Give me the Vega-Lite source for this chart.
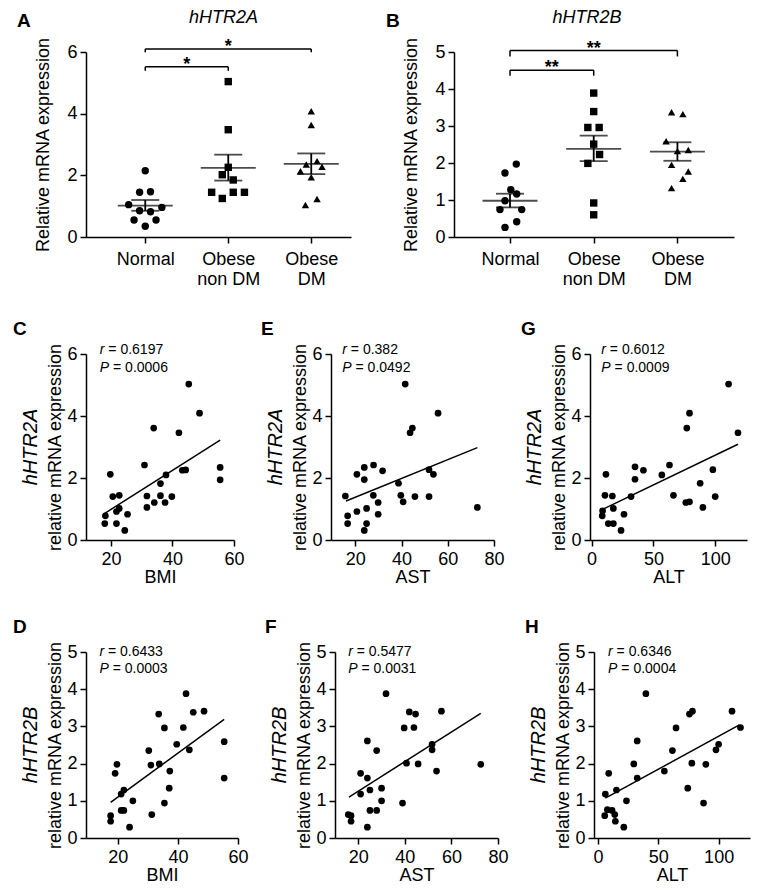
{
"$schema": "https://vega.github.io/schema/vega-lite/v6.json",
"padding": {"top": 8, "left": 12, "right": 5, "bottom": 5},
"background": "white",
"config": {
  "font": "Liberation Sans",
  "view": {"stroke": null},
  "axis": {"domainColor": "#000", "domainWidth": 1.5, "tickColor": "#000", "tickWidth": 1.5, "tickSize": 6, "labelColor": "#000", "labelFontSize": 18, "titleColor": "#000", "titleFontSize": 18, "titleFontWeight": "normal", "grid": false, "labelPadding": 3, "labelFlush": false, "labelOverlap": false, "tickCount": 10, "format": "d"},
  "title": {"color": "#000", "fontSize": 19, "fontWeight": "bold"},
  "text": {"color": "#000"}
},
"datasets": {
  "ptsA": [
    {"grp": "Normal", "pos": 1.0, "val": 2.15}, {"grp": "Normal", "pos": 0.932, "val": 1.45}, {"grp": "Normal", "pos": 1.063, "val": 1.47}, {"grp": "Normal", "pos": 0.80, "val": 1.05}, {"grp": "Normal", "pos": 1.20, "val": 0.96}, {"grp": "Normal", "pos": 0.932, "val": 0.85}, {"grp": "Normal", "pos": 1.063, "val": 0.82}, {"grp": "Normal", "pos": 0.865, "val": 0.55}, {"grp": "Normal", "pos": 1.13, "val": 0.55}, {"grp": "Normal", "pos": 1.0, "val": 0.35},
    {"grp": "Obese non DM", "pos": 2.0, "val": 5.04}, {"grp": "Obese non DM", "pos": 2.0, "val": 3.48}, {"grp": "Obese non DM", "pos": 2.0, "val": 2.26}, {"grp": "Obese non DM", "pos": 1.928, "val": 2.02}, {"grp": "Obese non DM", "pos": 2.06, "val": 1.85}, {"grp": "Obese non DM", "pos": 1.80, "val": 1.45}, {"grp": "Obese non DM", "pos": 2.06, "val": 1.45}, {"grp": "Obese non DM", "pos": 2.195, "val": 1.45}, {"grp": "Obese non DM", "pos": 1.928, "val": 1.25},
    {"grp": "Obese DM", "pos": 3.0, "val": 4.08}, {"grp": "Obese DM", "pos": 3.0, "val": 3.63}, {"grp": "Obese DM", "pos": 2.94, "val": 2.35}, {"grp": "Obese DM", "pos": 3.07, "val": 2.46}, {"grp": "Obese DM", "pos": 3.13, "val": 2.28}, {"grp": "Obese DM", "pos": 2.87, "val": 2.13}, {"grp": "Obese DM", "pos": 3.0, "val": 1.94}, {"grp": "Obese DM", "pos": 2.93, "val": 1.04}, {"grp": "Obese DM", "pos": 3.07, "val": 1.23}
  ],
  "sumA": [{"pos": 1, "mean": 1.02, "lo": 0.85, "hi": 1.2}, {"pos": 2, "mean": 2.24, "lo": 1.83, "hi": 2.67}, {"pos": 3, "mean": 2.37, "lo": 2.04, "hi": 2.71}],
  "brA": [{"from": 1, "to": 2, "mid": 1.5, "y": 5.52, "ylo": 5.39, "stars": "*"}, {"from": 1, "to": 3, "mid": 2, "y": 6.1, "ylo": 5.99, "stars": "*"}],
  "ptsB": [
    {"grp": "Normal", "pos": 1.075, "val": 1.97}, {"grp": "Normal", "pos": 0.94, "val": 1.73}, {"grp": "Normal", "pos": 1.01, "val": 1.28}, {"grp": "Normal", "pos": 1.08, "val": 1.16}, {"grp": "Normal", "pos": 0.94, "val": 0.98}, {"grp": "Normal", "pos": 0.88, "val": 0.74}, {"grp": "Normal", "pos": 1.14, "val": 0.74}, {"grp": "Normal", "pos": 1.08, "val": 0.41}, {"grp": "Normal", "pos": 0.94, "val": 0.26},
    {"grp": "Obese non DM", "pos": 2.0, "val": 3.89}, {"grp": "Obese non DM", "pos": 2.0, "val": 3.39}, {"grp": "Obese non DM", "pos": 1.93, "val": 2.96}, {"grp": "Obese non DM", "pos": 2.065, "val": 2.96}, {"grp": "Obese non DM", "pos": 2.0, "val": 2.51}, {"grp": "Obese non DM", "pos": 2.07, "val": 2.23}, {"grp": "Obese non DM", "pos": 1.93, "val": 1.99}, {"grp": "Obese non DM", "pos": 2.0, "val": 0.92}, {"grp": "Obese non DM", "pos": 2.0, "val": 0.60},
    {"grp": "Obese DM", "pos": 2.93, "val": 3.37}, {"grp": "Obese DM", "pos": 3.065, "val": 3.32}, {"grp": "Obese DM", "pos": 2.865, "val": 2.59}, {"grp": "Obese DM", "pos": 3.0, "val": 2.32}, {"grp": "Obese DM", "pos": 3.13, "val": 2.35}, {"grp": "Obese DM", "pos": 2.93, "val": 1.95}, {"grp": "Obese DM", "pos": 3.13, "val": 1.77}, {"grp": "Obese DM", "pos": 3.065, "val": 1.57}, {"grp": "Obese DM", "pos": 2.93, "val": 1.32}
  ],
  "sumB": [{"pos": 1, "mean": 0.98, "lo": 0.80, "hi": 1.17}, {"pos": 2, "mean": 2.38, "lo": 2.05, "hi": 2.74}, {"pos": 3, "mean": 2.31, "lo": 2.06, "hi": 2.56}],
  "brB": [{"from": 1, "to": 2, "mid": 1.5, "y": 4.51, "ylo": 4.36, "stars": "**"}, {"from": 1, "to": 3, "mid": 2, "y": 5.04, "ylo": 4.88, "stars": "**"}],
  "C": [{"x": 45.3, "y": 5.03}, {"x": 48.8, "y": 4.09}, {"x": 33.9, "y": 3.61}, {"x": 42.1, "y": 3.46}, {"x": 55.5, "y": 2.34}, {"x": 55.5, "y": 1.94}, {"x": 30.9, "y": 2.42}, {"x": 19.8, "y": 2.12}, {"x": 37.9, "y": 2.10}, {"x": 43.2, "y": 2.25}, {"x": 44.3, "y": 2.26}, {"x": 36.1, "y": 1.82}, {"x": 20.6, "y": 1.40}, {"x": 22.7, "y": 1.44}, {"x": 31.7, "y": 1.42}, {"x": 36.1, "y": 1.43}, {"x": 39.8, "y": 1.40}, {"x": 34.1, "y": 1.21}, {"x": 37.6, "y": 1.21}, {"x": 31.7, "y": 1.05}, {"x": 22.7, "y": 1.02}, {"x": 21.8, "y": 0.92}, {"x": 25.4, "y": 0.83}, {"x": 18.2, "y": 0.78}, {"x": 18.0, "y": 0.53}, {"x": 21.8, "y": 0.53}, {"x": 24.5, "y": 0.31}],
  "regC": [{"x": 18.0, "y": 0.86}, {"x": 55.5, "y": 3.22}],
  "annC": [{"sym": "r", "rest": "= 0.6197", "x": 16.4, "y": 6.14}, {"sym": "P", "rest": "= 0.0006", "x": 16.4, "y": 5.56}],
  "E": [{"x": 41.6, "y": 5.03}, {"x": 55.8, "y": 4.09}, {"x": 44.7, "y": 3.61}, {"x": 43.7, "y": 3.46}, {"x": 51.9, "y": 2.27}, {"x": 53.8, "y": 2.12}, {"x": 27.9, "y": 2.42}, {"x": 23.9, "y": 2.34}, {"x": 31.8, "y": 2.23}, {"x": 20.7, "y": 2.12}, {"x": 23.9, "y": 1.95}, {"x": 38.7, "y": 1.83}, {"x": 15.7, "y": 1.42}, {"x": 27.8, "y": 1.44}, {"x": 39.7, "y": 1.44}, {"x": 45.8, "y": 1.40}, {"x": 51.9, "y": 1.40}, {"x": 29.9, "y": 1.21}, {"x": 40.7, "y": 1.23}, {"x": 72.8, "y": 1.05}, {"x": 24.9, "y": 1.02}, {"x": 20.7, "y": 0.92}, {"x": 29.9, "y": 0.83}, {"x": 16.7, "y": 0.78}, {"x": 16.7, "y": 0.53}, {"x": 24.9, "y": 0.53}, {"x": 23.9, "y": 0.31}],
  "regE": [{"x": 16.0, "y": 1.26}, {"x": 72.8, "y": 2.98}],
  "annE": [{"sym": "r", "rest": "= 0.382", "x": 14.4, "y": 6.14}, {"sym": "P", "rest": "= 0.0492", "x": 14.4, "y": 5.56}],
  "G": [{"x": 110.8, "y": 5.03}, {"x": 79.2, "y": 4.09}, {"x": 77.0, "y": 3.61}, {"x": 118.4, "y": 3.46}, {"x": 35.1, "y": 2.36}, {"x": 41.9, "y": 2.25}, {"x": 63.0, "y": 2.42}, {"x": 56.8, "y": 2.10}, {"x": 98.1, "y": 2.27}, {"x": 11.6, "y": 2.12}, {"x": 35.1, "y": 1.96}, {"x": 87.8, "y": 1.83}, {"x": 10.8, "y": 1.44}, {"x": 16.8, "y": 1.42}, {"x": 31.9, "y": 1.40}, {"x": 66.2, "y": 1.44}, {"x": 100.0, "y": 1.40}, {"x": 76.2, "y": 1.21}, {"x": 79.2, "y": 1.23}, {"x": 90.0, "y": 1.05}, {"x": 17.6, "y": 1.02}, {"x": 8.9, "y": 0.94}, {"x": 8.6, "y": 0.78}, {"x": 26.2, "y": 0.83}, {"x": 13.5, "y": 0.53}, {"x": 17.6, "y": 0.53}, {"x": 23.8, "y": 0.31}],
  "regG": [{"x": 8.9, "y": 0.99}, {"x": 118.4, "y": 3.09}],
  "annG": [{"sym": "r", "rest": "= 0.6012", "x": 7.9, "y": 6.14}, {"sym": "P", "rest": "= 0.0009", "x": 7.9, "y": 5.56}],
  "D": [{"x": 42.7, "y": 3.88}, {"x": 33.6, "y": 3.33}, {"x": 45.1, "y": 3.38}, {"x": 48.7, "y": 3.41}, {"x": 35.5, "y": 2.96}, {"x": 41.8, "y": 2.97}, {"x": 55.4, "y": 2.59}, {"x": 39.6, "y": 2.52}, {"x": 43.8, "y": 2.37}, {"x": 30.3, "y": 2.35}, {"x": 19.7, "y": 1.98}, {"x": 31.0, "y": 1.96}, {"x": 33.8, "y": 1.99}, {"x": 19.1, "y": 1.74}, {"x": 37.3, "y": 1.80}, {"x": 55.4, "y": 1.61}, {"x": 22.0, "y": 1.29}, {"x": 21.1, "y": 1.18}, {"x": 37.1, "y": 1.34}, {"x": 25.0, "y": 1.00}, {"x": 35.5, "y": 0.94}, {"x": 21.1, "y": 0.74}, {"x": 22.0, "y": 0.74}, {"x": 31.3, "y": 0.63}, {"x": 17.6, "y": 0.60}, {"x": 17.6, "y": 0.45}, {"x": 23.9, "y": 0.29}],
  "regD": [{"x": 17.6, "y": 0.96}, {"x": 55.4, "y": 3.19}],
  "annD": [{"sym": "r", "rest": "= 0.6433", "x": 13.9, "y": 5.01}, {"sym": "P", "rest": "= 0.0003", "x": 13.9, "y": 4.55}],
  "F": [{"x": 31.9, "y": 3.88}, {"x": 41.9, "y": 3.39}, {"x": 44.6, "y": 3.33}, {"x": 55.7, "y": 3.41}, {"x": 39.7, "y": 2.96}, {"x": 43.9, "y": 2.97}, {"x": 23.9, "y": 2.61}, {"x": 51.7, "y": 2.52}, {"x": 51.7, "y": 2.37}, {"x": 27.9, "y": 2.35}, {"x": 40.7, "y": 2.01}, {"x": 45.7, "y": 1.99}, {"x": 72.6, "y": 1.98}, {"x": 21.0, "y": 1.74}, {"x": 53.6, "y": 1.80}, {"x": 23.9, "y": 1.61}, {"x": 25.0, "y": 1.29}, {"x": 21.0, "y": 1.18}, {"x": 30.0, "y": 1.34}, {"x": 30.0, "y": 1.00}, {"x": 39.0, "y": 0.94}, {"x": 25.0, "y": 0.74}, {"x": 27.9, "y": 0.74}, {"x": 15.7, "y": 0.63}, {"x": 16.9, "y": 0.60}, {"x": 16.9, "y": 0.45}, {"x": 23.9, "y": 0.29}],
  "regF": [{"x": 16.0, "y": 1.10}, {"x": 72.6, "y": 3.35}],
  "annF": [{"sym": "r", "rest": "= 0.5477", "x": 15.7, "y": 5.01}, {"sym": "P", "rest": "= 0.0031", "x": 15.7, "y": 4.55}],
  "H": [{"x": 39.7, "y": 3.88}, {"x": 75.8, "y": 3.33}, {"x": 78.3, "y": 3.41}, {"x": 111.1, "y": 3.41}, {"x": 118.1, "y": 2.97}, {"x": 64.7, "y": 2.96}, {"x": 32.5, "y": 2.61}, {"x": 100, "y": 2.52}, {"x": 97.8, "y": 2.37}, {"x": 61.7, "y": 2.35}, {"x": 29.7, "y": 1.99}, {"x": 77.8, "y": 2.01}, {"x": 89.4, "y": 1.98}, {"x": 8.9, "y": 1.74}, {"x": 55, "y": 1.80}, {"x": 32.5, "y": 1.61}, {"x": 15.3, "y": 1.29}, {"x": 6.1, "y": 1.18}, {"x": 74.4, "y": 1.34}, {"x": 23.6, "y": 1.00}, {"x": 87.5, "y": 0.94}, {"x": 7.8, "y": 0.76}, {"x": 11.7, "y": 0.74}, {"x": 13.9, "y": 0.63}, {"x": 5.6, "y": 0.60}, {"x": 14.4, "y": 0.45}, {"x": 21.4, "y": 0.29}],
  "regH": [{"x": 6.1, "y": 1.07}, {"x": 117.2, "y": 3.04}],
  "annH": [{"sym": "r", "rest": "= 0.6346", "x": 8.4, "y": 5.01}, {"sym": "P", "rest": "= 0.0004", "x": 8.4, "y": 4.55}]
},
"spacing": 31,
"vconcat": [
{
  "spacing": 34,
  "hconcat": [
  {
    "title": {"text": "A", "anchor": "start", "frame": "bounds", "dx": -18, "offset": -22},
    "vconcat": [{
    "width": 265, "height": 185,
    "title": {"text": "hHTR2A", "fontStyle": "italic", "fontWeight": "normal", "fontSize": 18, "anchor": "middle", "frame": "group", "dx": 5, "offset": 10},
    "layer": [
      {"data": {"name": "ptsA"}, "mark": {"type": "point", "filled": true, "size": 55, "opacity": 1, "color": "#000"},
       "encoding": {
        "x": {"field": "pos", "type": "quantitative", "scale": {"domain": [0.286, 3.479], "nice": false, "zero": false}, "axis": {"values": [1, 2, 3], "title": null, "labelExpr": "datum.value == 1 ? 'Normal' : datum.value == 2 ? ['Obese', 'non DM'] : ['Obese', 'DM']", "labelPadding": 7, "labelLineHeight": 20}},
        "y": {"field": "val", "type": "quantitative", "scale": {"domain": [0, 6], "nice": false}, "axis": {"values": [0, 2, 4, 6], "title": "Relative mRNA expression", "titlePadding": 14}},
        "shape": {"field": "grp", "type": "nominal", "scale": {"domain": ["Normal", "Obese non DM", "Obese DM"], "range": ["circle", "square", "triangle-up"]}, "legend": null}
       }},
      {"data": {"name": "sumA"}, "mark": {"type": "tick", "orient": "horizontal", "size": 55, "thickness": 1.8, "color": "#000"},
       "encoding": {"x": {"field": "pos", "type": "quantitative", "scale": {"domain": [0.286, 3.479], "nice": false, "zero": false}, "axis": {"title": null}}, "y": {"field": "mean", "type": "quantitative", "scale": {"domain": [0, 6], "nice": false}, "axis": {"title": "Relative mRNA expression"}}}},
      {"data": {"name": "sumA"}, "mark": {"type": "tick", "orient": "horizontal", "size": 28, "thickness": 1.8, "color": "#000"},
       "encoding": {"x": {"field": "pos", "type": "quantitative", "scale": {"domain": [0.286, 3.479], "nice": false, "zero": false}, "axis": {"title": null}}, "y": {"field": "hi", "type": "quantitative", "scale": {"domain": [0, 6], "nice": false}, "axis": {"title": "Relative mRNA expression"}}}},
      {"data": {"name": "sumA"}, "mark": {"type": "tick", "orient": "horizontal", "size": 28, "thickness": 1.8, "color": "#000"},
       "encoding": {"x": {"field": "pos", "type": "quantitative", "scale": {"domain": [0.286, 3.479], "nice": false, "zero": false}, "axis": {"title": null}}, "y": {"field": "lo", "type": "quantitative", "scale": {"domain": [0, 6], "nice": false}, "axis": {"title": "Relative mRNA expression"}}}},
      {"data": {"name": "sumA"}, "mark": {"type": "rule", "strokeWidth": 1.8, "color": "#000"},
       "encoding": {"x": {"field": "pos", "type": "quantitative", "scale": {"domain": [0.286, 3.479], "nice": false, "zero": false}, "axis": {"title": null}}, "y": {"field": "lo", "type": "quantitative", "scale": {"domain": [0, 6], "nice": false}, "axis": {"title": "Relative mRNA expression"}}, "y2": {"field": "hi"}}},
      {"data": {"name": "brA"}, "mark": {"type": "rule", "strokeWidth": 1.5, "color": "#000"},
       "encoding": {"x": {"field": "from", "type": "quantitative", "scale": {"domain": [0.286, 3.479], "nice": false, "zero": false}, "axis": {"title": null}}, "x2": {"field": "to"}, "y": {"field": "y", "type": "quantitative", "scale": {"domain": [0, 6], "nice": false}, "axis": {"title": "Relative mRNA expression"}}}},
      {"data": {"name": "brA"}, "mark": {"type": "rule", "strokeWidth": 1.5, "color": "#000"},
       "encoding": {"x": {"field": "from", "type": "quantitative", "scale": {"domain": [0.286, 3.479], "nice": false, "zero": false}, "axis": {"title": null}}, "y": {"field": "ylo", "type": "quantitative", "scale": {"domain": [0, 6], "nice": false}, "axis": {"title": "Relative mRNA expression"}}, "y2": {"field": "y"}}},
      {"data": {"name": "brA"}, "mark": {"type": "rule", "strokeWidth": 1.5, "color": "#000"},
       "encoding": {"x": {"field": "to", "type": "quantitative", "scale": {"domain": [0.286, 3.479], "nice": false, "zero": false}, "axis": {"title": null}}, "y": {"field": "ylo", "type": "quantitative", "scale": {"domain": [0, 6], "nice": false}, "axis": {"title": "Relative mRNA expression"}}, "y2": {"field": "y"}}},
      {"data": {"name": "brA"}, "mark": {"type": "text", "fontSize": 18, "fontWeight": "bold", "baseline": "alphabetic", "dy": 3},
       "encoding": {"x": {"field": "mid", "type": "quantitative", "scale": {"domain": [0.286, 3.479], "nice": false, "zero": false}, "axis": {"title": null}}, "y": {"field": "y", "type": "quantitative", "scale": {"domain": [0, 6], "nice": false}, "axis": {"title": "Relative mRNA expression"}}, "text": {"field": "stars"}}}
    ]
    }]
  },
  {
    "title": {"text": "B", "anchor": "start", "frame": "bounds", "dx": -17, "offset": -22},
    "vconcat": [{
    "width": 280, "height": 185,
    "title": {"text": "hHTR2B", "fontStyle": "italic", "fontWeight": "normal", "fontSize": 18, "anchor": "middle", "frame": "group", "dx": -7, "offset": 10},
    "layer": [
      {"data": {"name": "ptsB"}, "mark": {"type": "point", "filled": true, "size": 55, "opacity": 1, "color": "#000"},
       "encoding": {
        "x": {"field": "pos", "type": "quantitative", "scale": {"domain": [0.331, 3.676], "nice": false, "zero": false}, "axis": {"values": [1, 2, 3], "title": null, "labelExpr": "datum.value == 1 ? 'Normal' : datum.value == 2 ? ['Obese', 'non DM'] : ['Obese', 'DM']", "labelPadding": 7, "labelLineHeight": 20}},
        "y": {"field": "val", "type": "quantitative", "scale": {"domain": [0, 5], "nice": false}, "axis": {"values": [0, 1, 2, 3, 4, 5], "title": "Relative mRNA expression", "titlePadding": 14}},
        "shape": {"field": "grp", "type": "nominal", "scale": {"domain": ["Normal", "Obese non DM", "Obese DM"], "range": ["circle", "square", "triangle-up"]}, "legend": null}
       }},
      {"data": {"name": "sumB"}, "mark": {"type": "tick", "orient": "horizontal", "size": 55, "thickness": 1.8, "color": "#000"},
       "encoding": {"x": {"field": "pos", "type": "quantitative", "scale": {"domain": [0.331, 3.676], "nice": false, "zero": false}, "axis": {"title": null}}, "y": {"field": "mean", "type": "quantitative", "scale": {"domain": [0, 5], "nice": false}, "axis": {"title": "Relative mRNA expression"}}}},
      {"data": {"name": "sumB"}, "mark": {"type": "tick", "orient": "horizontal", "size": 28, "thickness": 1.8, "color": "#000"},
       "encoding": {"x": {"field": "pos", "type": "quantitative", "scale": {"domain": [0.331, 3.676], "nice": false, "zero": false}, "axis": {"title": null}}, "y": {"field": "hi", "type": "quantitative", "scale": {"domain": [0, 5], "nice": false}, "axis": {"title": "Relative mRNA expression"}}}},
      {"data": {"name": "sumB"}, "mark": {"type": "tick", "orient": "horizontal", "size": 28, "thickness": 1.8, "color": "#000"},
       "encoding": {"x": {"field": "pos", "type": "quantitative", "scale": {"domain": [0.331, 3.676], "nice": false, "zero": false}, "axis": {"title": null}}, "y": {"field": "lo", "type": "quantitative", "scale": {"domain": [0, 5], "nice": false}, "axis": {"title": "Relative mRNA expression"}}}},
      {"data": {"name": "sumB"}, "mark": {"type": "rule", "strokeWidth": 1.8, "color": "#000"},
       "encoding": {"x": {"field": "pos", "type": "quantitative", "scale": {"domain": [0.331, 3.676], "nice": false, "zero": false}, "axis": {"title": null}}, "y": {"field": "lo", "type": "quantitative", "scale": {"domain": [0, 5], "nice": false}, "axis": {"title": "Relative mRNA expression"}}, "y2": {"field": "hi"}}},
      {"data": {"name": "brB"}, "mark": {"type": "rule", "strokeWidth": 1.5, "color": "#000"},
       "encoding": {"x": {"field": "from", "type": "quantitative", "scale": {"domain": [0.331, 3.676], "nice": false, "zero": false}, "axis": {"title": null}}, "x2": {"field": "to"}, "y": {"field": "y", "type": "quantitative", "scale": {"domain": [0, 5], "nice": false}, "axis": {"title": "Relative mRNA expression"}}}},
      {"data": {"name": "brB"}, "mark": {"type": "rule", "strokeWidth": 1.5, "color": "#000"},
       "encoding": {"x": {"field": "from", "type": "quantitative", "scale": {"domain": [0.331, 3.676], "nice": false, "zero": false}, "axis": {"title": null}}, "y": {"field": "ylo", "type": "quantitative", "scale": {"domain": [0, 5], "nice": false}, "axis": {"title": "Relative mRNA expression"}}, "y2": {"field": "y"}}},
      {"data": {"name": "brB"}, "mark": {"type": "rule", "strokeWidth": 1.5, "color": "#000"},
       "encoding": {"x": {"field": "to", "type": "quantitative", "scale": {"domain": [0.331, 3.676], "nice": false, "zero": false}, "axis": {"title": null}}, "y": {"field": "ylo", "type": "quantitative", "scale": {"domain": [0, 5], "nice": false}, "axis": {"title": "Relative mRNA expression"}}, "y2": {"field": "y"}}},
      {"data": {"name": "brB"}, "mark": {"type": "text", "fontSize": 18, "fontWeight": "bold", "baseline": "alphabetic", "dy": 3},
       "encoding": {"x": {"field": "mid", "type": "quantitative", "scale": {"domain": [0.331, 3.676], "nice": false, "zero": false}, "axis": {"title": null}}, "y": {"field": "y", "type": "quantitative", "scale": {"domain": [0, 5], "nice": false}, "axis": {"title": "Relative mRNA expression"}}, "text": {"field": "stars"}}}
    ]
    }]
  }
  ]
},
{
  "spacing": 15,
  "hconcat": [
  {
    "title": {"text": "C", "anchor": "start", "frame": "bounds", "dx": -8, "offset": 4},
    "vconcat": [{
      "width": 148, "height": 186,
      "title": {"text": "hHTR2A", "orient": "left", "fontStyle": "italic", "fontWeight": "normal", "fontSize": 20, "offset": 6},
      "layer": [
        {"data": {"name": "C"}, "mark": {"type": "circle", "size": 45, "opacity": 1, "color": "#000"},
         "encoding": {"x": {"field": "x", "type": "quantitative", "scale": {"domain": [11.9, 60], "nice": false, "zero": false}, "axis": {"values": [20, 40, 60], "title": "BMI", "labelPadding": 4, "titlePadding": 0}},
                      "y": {"field": "y", "type": "quantitative", "scale": {"domain": [0, 6], "nice": false}, "axis": {"values": [0, 2, 4, 6], "title": "relative mRNA expression", "titlePadding": 2}}}},
        {"data": {"name": "regC"}, "mark": {"type": "line", "strokeWidth": 1.5, "color": "#000"},
         "encoding": {"x": {"field": "x", "type": "quantitative", "scale": {"domain": [11.9, 60], "nice": false, "zero": false}, "axis": {"title": "BMI"}}, "y": {"field": "y", "type": "quantitative", "scale": {"domain": [0, 6], "nice": false}, "axis": {"title": "relative mRNA expression"}}}},
        {"data": {"name": "annC"}, "mark": {"type": "text", "fontSize": 14, "fontStyle": "italic", "align": "left", "baseline": "middle"},
         "encoding": {"x": {"field": "x", "type": "quantitative", "scale": {"domain": [11.9, 60], "nice": false, "zero": false}, "axis": {"title": "BMI"}}, "y": {"field": "y", "type": "quantitative", "scale": {"domain": [0, 6], "nice": false}, "axis": {"title": "relative mRNA expression"}}, "text": {"field": "sym"}}},
        {"data": {"name": "annC"}, "transform": [{"filter": "datum.sym == 'r'"}], "mark": {"type": "text", "fontSize": 14, "align": "left", "baseline": "middle", "dx": 8.5},
         "encoding": {"x": {"field": "x", "type": "quantitative", "scale": {"domain": [11.9, 60], "nice": false, "zero": false}, "axis": {"title": "BMI"}}, "y": {"field": "y", "type": "quantitative", "scale": {"domain": [0, 6], "nice": false}, "axis": {"title": "relative mRNA expression"}}, "text": {"field": "rest"}}},
        {"data": {"name": "annC"}, "transform": [{"filter": "datum.sym == 'P'"}], "mark": {"type": "text", "fontSize": 14, "align": "left", "baseline": "middle", "dx": 13.2},
         "encoding": {"x": {"field": "x", "type": "quantitative", "scale": {"domain": [11.9, 60], "nice": false, "zero": false}, "axis": {"title": "BMI"}}, "y": {"field": "y", "type": "quantitative", "scale": {"domain": [0, 6], "nice": false}, "axis": {"title": "relative mRNA expression"}}, "text": {"field": "rest"}}}
      ]
    }]
  },
  {
    "title": {"text": "E", "anchor": "start", "frame": "bounds", "dx": -5, "offset": 4},
    "vconcat": [{
      "width": 163, "height": 186,
      "title": {"text": "hHTR2A", "orient": "left", "fontStyle": "italic", "fontWeight": "normal", "fontSize": 20, "offset": 6},
      "layer": [
        {"data": {"name": "E"}, "mark": {"type": "circle", "size": 45, "opacity": 1, "color": "#000"},
         "encoding": {"x": {"field": "x", "type": "quantitative", "scale": {"domain": [9.5, 80], "nice": false, "zero": false}, "axis": {"values": [20, 40, 60, 80], "title": "AST", "labelPadding": 4, "titlePadding": 0}},
                      "y": {"field": "y", "type": "quantitative", "scale": {"domain": [0, 6], "nice": false}, "axis": {"values": [0, 2, 4, 6], "title": "relative mRNA expression", "titlePadding": 2}}}},
        {"data": {"name": "regE"}, "mark": {"type": "line", "strokeWidth": 1.5, "color": "#000"},
         "encoding": {"x": {"field": "x", "type": "quantitative", "scale": {"domain": [9.5, 80], "nice": false, "zero": false}, "axis": {"title": "AST"}}, "y": {"field": "y", "type": "quantitative", "scale": {"domain": [0, 6], "nice": false}, "axis": {"title": "relative mRNA expression"}}}},
        {"data": {"name": "annE"}, "mark": {"type": "text", "fontSize": 14, "fontStyle": "italic", "align": "left", "baseline": "middle"},
         "encoding": {"x": {"field": "x", "type": "quantitative", "scale": {"domain": [9.5, 80], "nice": false, "zero": false}, "axis": {"title": "AST"}}, "y": {"field": "y", "type": "quantitative", "scale": {"domain": [0, 6], "nice": false}, "axis": {"title": "relative mRNA expression"}}, "text": {"field": "sym"}}},
        {"data": {"name": "annE"}, "transform": [{"filter": "datum.sym == 'r'"}], "mark": {"type": "text", "fontSize": 14, "align": "left", "baseline": "middle", "dx": 8.5},
         "encoding": {"x": {"field": "x", "type": "quantitative", "scale": {"domain": [9.5, 80], "nice": false, "zero": false}, "axis": {"title": "AST"}}, "y": {"field": "y", "type": "quantitative", "scale": {"domain": [0, 6], "nice": false}, "axis": {"title": "relative mRNA expression"}}, "text": {"field": "rest"}}},
        {"data": {"name": "annE"}, "transform": [{"filter": "datum.sym == 'P'"}], "mark": {"type": "text", "fontSize": 14, "align": "left", "baseline": "middle", "dx": 13.2},
         "encoding": {"x": {"field": "x", "type": "quantitative", "scale": {"domain": [9.5, 80], "nice": false, "zero": false}, "axis": {"title": "AST"}}, "y": {"field": "y", "type": "quantitative", "scale": {"domain": [0, 6], "nice": false}, "axis": {"title": "relative mRNA expression"}}, "text": {"field": "rest"}}}
      ]
    }]
  },
  {
    "title": {"text": "G", "anchor": "start", "frame": "bounds", "dx": -4, "offset": 4},
    "vconcat": [{
      "width": 157, "height": 186,
      "title": {"text": "hHTR2A", "orient": "left", "fontStyle": "italic", "fontWeight": "normal", "fontSize": 20, "offset": 6},
      "layer": [
        {"data": {"name": "G"}, "mark": {"type": "circle", "size": 45, "opacity": 1, "color": "#000"},
         "encoding": {"x": {"field": "x", "type": "quantitative", "scale": {"domain": [-1.3, 125.7], "nice": false, "zero": false}, "axis": {"values": [0, 50, 100], "title": "ALT", "labelPadding": 4, "titlePadding": 0}},
                      "y": {"field": "y", "type": "quantitative", "scale": {"domain": [0, 6], "nice": false}, "axis": {"values": [0, 2, 4, 6], "title": "relative mRNA expression", "titlePadding": 2}}}},
        {"data": {"name": "regG"}, "mark": {"type": "line", "strokeWidth": 1.5, "color": "#000"},
         "encoding": {"x": {"field": "x", "type": "quantitative", "scale": {"domain": [-1.3, 125.7], "nice": false, "zero": false}, "axis": {"title": "ALT"}}, "y": {"field": "y", "type": "quantitative", "scale": {"domain": [0, 6], "nice": false}, "axis": {"title": "relative mRNA expression"}}}},
        {"data": {"name": "annG"}, "mark": {"type": "text", "fontSize": 14, "fontStyle": "italic", "align": "left", "baseline": "middle"},
         "encoding": {"x": {"field": "x", "type": "quantitative", "scale": {"domain": [-1.3, 125.7], "nice": false, "zero": false}, "axis": {"title": "ALT"}}, "y": {"field": "y", "type": "quantitative", "scale": {"domain": [0, 6], "nice": false}, "axis": {"title": "relative mRNA expression"}}, "text": {"field": "sym"}}},
        {"data": {"name": "annG"}, "transform": [{"filter": "datum.sym == 'r'"}], "mark": {"type": "text", "fontSize": 14, "align": "left", "baseline": "middle", "dx": 8.5},
         "encoding": {"x": {"field": "x", "type": "quantitative", "scale": {"domain": [-1.3, 125.7], "nice": false, "zero": false}, "axis": {"title": "ALT"}}, "y": {"field": "y", "type": "quantitative", "scale": {"domain": [0, 6], "nice": false}, "axis": {"title": "relative mRNA expression"}}, "text": {"field": "rest"}}},
        {"data": {"name": "annG"}, "transform": [{"filter": "datum.sym == 'P'"}], "mark": {"type": "text", "fontSize": 14, "align": "left", "baseline": "middle", "dx": 13.2},
         "encoding": {"x": {"field": "x", "type": "quantitative", "scale": {"domain": [-1.3, 125.7], "nice": false, "zero": false}, "axis": {"title": "ALT"}}, "y": {"field": "y", "type": "quantitative", "scale": {"domain": [0, 6], "nice": false}, "axis": {"title": "relative mRNA expression"}}, "text": {"field": "rest"}}}
      ]
    }]
  }
  ]
},
{
  "spacing": 15,
  "hconcat": [
  {
    "title": {"text": "D", "anchor": "start", "frame": "bounds", "dx": -8, "offset": 4},
    "vconcat": [{
      "width": 152, "height": 186,
      "title": {"text": "hHTR2B", "orient": "left", "fontStyle": "italic", "fontWeight": "normal", "fontSize": 20, "offset": 6},
      "layer": [
        {"data": {"name": "D"}, "mark": {"type": "circle", "size": 45, "opacity": 1, "color": "#000"},
         "encoding": {"x": {"field": "x", "type": "quantitative", "scale": {"domain": [9.4, 60], "nice": false, "zero": false}, "axis": {"values": [20, 40, 60], "title": "BMI", "labelPadding": 4, "titlePadding": 0}},
                      "y": {"field": "y", "type": "quantitative", "scale": {"domain": [0, 5], "nice": false}, "axis": {"values": [0, 1, 2, 3, 4, 5], "title": "relative mRNA expression", "titlePadding": 2}}}},
        {"data": {"name": "regD"}, "mark": {"type": "line", "strokeWidth": 1.5, "color": "#000"},
         "encoding": {"x": {"field": "x", "type": "quantitative", "scale": {"domain": [9.4, 60], "nice": false, "zero": false}, "axis": {"title": "BMI"}}, "y": {"field": "y", "type": "quantitative", "scale": {"domain": [0, 5], "nice": false}, "axis": {"title": "relative mRNA expression"}}}},
        {"data": {"name": "annD"}, "mark": {"type": "text", "fontSize": 14, "fontStyle": "italic", "align": "left", "baseline": "middle"},
         "encoding": {"x": {"field": "x", "type": "quantitative", "scale": {"domain": [9.4, 60], "nice": false, "zero": false}, "axis": {"title": "BMI"}}, "y": {"field": "y", "type": "quantitative", "scale": {"domain": [0, 5], "nice": false}, "axis": {"title": "relative mRNA expression"}}, "text": {"field": "sym"}}},
        {"data": {"name": "annD"}, "transform": [{"filter": "datum.sym == 'r'"}], "mark": {"type": "text", "fontSize": 14, "align": "left", "baseline": "middle", "dx": 8.5},
         "encoding": {"x": {"field": "x", "type": "quantitative", "scale": {"domain": [9.4, 60], "nice": false, "zero": false}, "axis": {"title": "BMI"}}, "y": {"field": "y", "type": "quantitative", "scale": {"domain": [0, 5], "nice": false}, "axis": {"title": "relative mRNA expression"}}, "text": {"field": "rest"}}},
        {"data": {"name": "annD"}, "transform": [{"filter": "datum.sym == 'P'"}], "mark": {"type": "text", "fontSize": 14, "align": "left", "baseline": "middle", "dx": 13.2},
         "encoding": {"x": {"field": "x", "type": "quantitative", "scale": {"domain": [9.4, 60], "nice": false, "zero": false}, "axis": {"title": "BMI"}}, "y": {"field": "y", "type": "quantitative", "scale": {"domain": [0, 5], "nice": false}, "axis": {"title": "relative mRNA expression"}}, "text": {"field": "rest"}}}
      ]
    }]
  },
  {
    "title": {"text": "F", "anchor": "start", "frame": "bounds", "dx": -5, "offset": 4},
    "vconcat": [{
      "width": 163, "height": 186,
      "title": {"text": "hHTR2B", "orient": "left", "fontStyle": "italic", "fontWeight": "normal", "fontSize": 20, "offset": 6},
      "layer": [
        {"data": {"name": "F"}, "mark": {"type": "circle", "size": 45, "opacity": 1, "color": "#000"},
         "encoding": {"x": {"field": "x", "type": "quantitative", "scale": {"domain": [10, 80], "nice": false, "zero": false}, "axis": {"values": [20, 40, 60, 80], "title": "AST", "labelPadding": 4, "titlePadding": 0}},
                      "y": {"field": "y", "type": "quantitative", "scale": {"domain": [0, 5], "nice": false}, "axis": {"values": [0, 1, 2, 3, 4, 5], "title": "relative mRNA expression", "titlePadding": 2}}}},
        {"data": {"name": "regF"}, "mark": {"type": "line", "strokeWidth": 1.5, "color": "#000"},
         "encoding": {"x": {"field": "x", "type": "quantitative", "scale": {"domain": [10, 80], "nice": false, "zero": false}, "axis": {"title": "AST"}}, "y": {"field": "y", "type": "quantitative", "scale": {"domain": [0, 5], "nice": false}, "axis": {"title": "relative mRNA expression"}}}},
        {"data": {"name": "annF"}, "mark": {"type": "text", "fontSize": 14, "fontStyle": "italic", "align": "left", "baseline": "middle"},
         "encoding": {"x": {"field": "x", "type": "quantitative", "scale": {"domain": [10, 80], "nice": false, "zero": false}, "axis": {"title": "AST"}}, "y": {"field": "y", "type": "quantitative", "scale": {"domain": [0, 5], "nice": false}, "axis": {"title": "relative mRNA expression"}}, "text": {"field": "sym"}}},
        {"data": {"name": "annF"}, "transform": [{"filter": "datum.sym == 'r'"}], "mark": {"type": "text", "fontSize": 14, "align": "left", "baseline": "middle", "dx": 8.5},
         "encoding": {"x": {"field": "x", "type": "quantitative", "scale": {"domain": [10, 80], "nice": false, "zero": false}, "axis": {"title": "AST"}}, "y": {"field": "y", "type": "quantitative", "scale": {"domain": [0, 5], "nice": false}, "axis": {"title": "relative mRNA expression"}}, "text": {"field": "rest"}}},
        {"data": {"name": "annF"}, "transform": [{"filter": "datum.sym == 'P'"}], "mark": {"type": "text", "fontSize": 14, "align": "left", "baseline": "middle", "dx": 13.2},
         "encoding": {"x": {"field": "x", "type": "quantitative", "scale": {"domain": [10, 80], "nice": false, "zero": false}, "axis": {"title": "AST"}}, "y": {"field": "y", "type": "quantitative", "scale": {"domain": [0, 5], "nice": false}, "axis": {"title": "relative mRNA expression"}}, "text": {"field": "rest"}}}
      ]
    }]
  },
  {
    "title": {"text": "H", "anchor": "start", "frame": "bounds", "dx": -4, "offset": 4},
    "vconcat": [{
      "width": 156, "height": 186,
      "title": {"text": "hHTR2B", "orient": "left", "fontStyle": "italic", "fontWeight": "normal", "fontSize": 20, "offset": 6},
      "layer": [
        {"data": {"name": "H"}, "mark": {"type": "circle", "size": 45, "opacity": 1, "color": "#000"},
         "encoding": {"x": {"field": "x", "type": "quantitative", "scale": {"domain": [-3.3, 126], "nice": false, "zero": false}, "axis": {"values": [0, 50, 100], "title": "ALT", "labelPadding": 4, "titlePadding": 0}},
                      "y": {"field": "y", "type": "quantitative", "scale": {"domain": [0, 5], "nice": false}, "axis": {"values": [0, 1, 2, 3, 4, 5], "title": "relative mRNA expression", "titlePadding": 2}}}},
        {"data": {"name": "regH"}, "mark": {"type": "line", "strokeWidth": 1.5, "color": "#000"},
         "encoding": {"x": {"field": "x", "type": "quantitative", "scale": {"domain": [-3.3, 126], "nice": false, "zero": false}, "axis": {"title": "ALT"}}, "y": {"field": "y", "type": "quantitative", "scale": {"domain": [0, 5], "nice": false}, "axis": {"title": "relative mRNA expression"}}}},
        {"data": {"name": "annH"}, "mark": {"type": "text", "fontSize": 14, "fontStyle": "italic", "align": "left", "baseline": "middle"},
         "encoding": {"x": {"field": "x", "type": "quantitative", "scale": {"domain": [-3.3, 126], "nice": false, "zero": false}, "axis": {"title": "ALT"}}, "y": {"field": "y", "type": "quantitative", "scale": {"domain": [0, 5], "nice": false}, "axis": {"title": "relative mRNA expression"}}, "text": {"field": "sym"}}},
        {"data": {"name": "annH"}, "transform": [{"filter": "datum.sym == 'r'"}], "mark": {"type": "text", "fontSize": 14, "align": "left", "baseline": "middle", "dx": 8.5},
         "encoding": {"x": {"field": "x", "type": "quantitative", "scale": {"domain": [-3.3, 126], "nice": false, "zero": false}, "axis": {"title": "ALT"}}, "y": {"field": "y", "type": "quantitative", "scale": {"domain": [0, 5], "nice": false}, "axis": {"title": "relative mRNA expression"}}, "text": {"field": "rest"}}},
        {"data": {"name": "annH"}, "transform": [{"filter": "datum.sym == 'P'"}], "mark": {"type": "text", "fontSize": 14, "align": "left", "baseline": "middle", "dx": 13.2},
         "encoding": {"x": {"field": "x", "type": "quantitative", "scale": {"domain": [-3.3, 126], "nice": false, "zero": false}, "axis": {"title": "ALT"}}, "y": {"field": "y", "type": "quantitative", "scale": {"domain": [0, 5], "nice": false}, "axis": {"title": "relative mRNA expression"}}, "text": {"field": "rest"}}}
      ]
    }]
  }
  ]
}
]
}
